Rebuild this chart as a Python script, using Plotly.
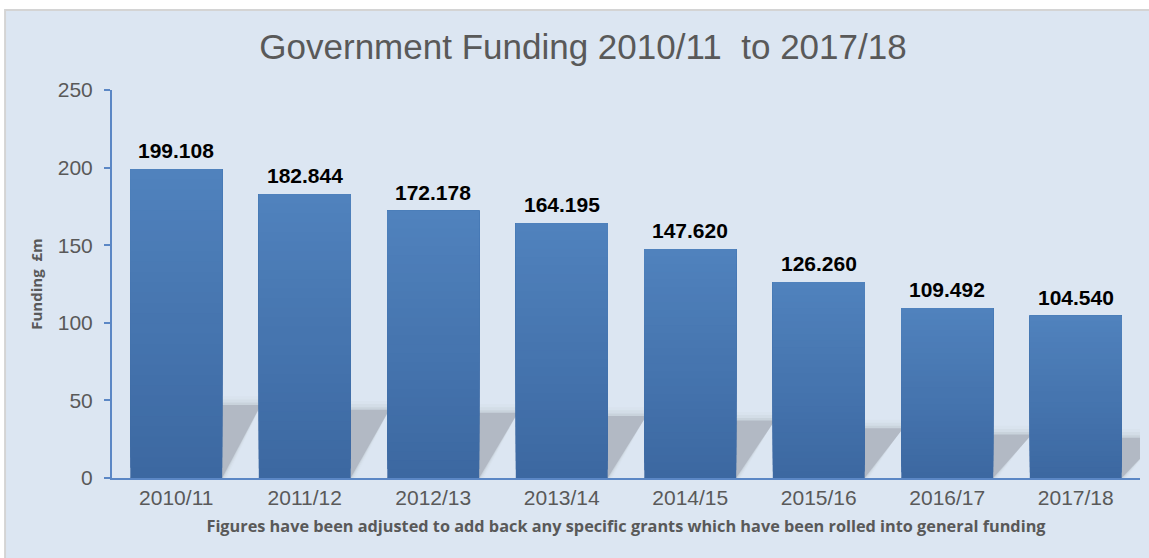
import plotly.graph_objects as go

categories = ["2010/11", "2011/12", "2012/13", "2013/14", "2014/15", "2015/16", "2016/17", "2017/18"]
funding = [199.108, 182.844, 172.178, 164.195, 147.620, 126.260, 109.492, 104.540]
labels = ["199.108", "182.844", "172.178", "164.195", "147.620", "126.260", "109.492", "104.540"]
# decorative drop-shadow heights (£m axis units)
shadow = [47, 44, 42, 40, 37, 32, 28, 26]

title_text = "Government Funding 2010/11  to 2017/18"
y_title = "Funding  £m"
x_title = "Figures have been adjusted to add back any specific grants which have been rolled into general funding"

BAR_W = 0.715
SKEW = 0.30
N_GRAD = 30
TOP_RGB = (0x50, 0x82, 0xbd)
BOT_RGB = (0x3c, 0x68, 0xa1)
xs = list(range(len(categories)))

fig = go.Figure()
# main bars (data)
fig.add_trace(go.Bar(
    x=xs, y=funding, width=BAR_W, name="Funding",
    marker=dict(color="#3c68a1", line=dict(width=0)),
    hovertemplate="%{x}: %{y:.3f}<extra></extra>",
))
# vertical gradient overlay drawn as thin slices of each bar
for k in range(1, N_GRAD):
    f0 = k / N_GRAD
    t = (k + 0.5) / N_GRAD
    c = tuple(round(BOT_RGB[j] + (TOP_RGB[j] - BOT_RGB[j]) * t) for j in range(3))
    fig.add_trace(go.Bar(
        x=xs, y=[v * (1 - f0) for v in funding], base=[v * f0 for v in funding],
        width=BAR_W, marker=dict(color=f"rgb{c}", line=dict(width=0)),
        hoverinfo="skip", showlegend=False,
    ))

for i, v, t in zip(xs, funding, labels):
    fig.add_annotation(x=i, y=v, text=t, showarrow=False, yanchor="bottom", yshift=5,
                       font=dict(family="Liberation Sans, Arial", size=21, color="#000000",
                                 weight="bold"))

shapes = [dict(type="rect", xref="paper", yref="paper", layer="below",
               x0=-0.104, x1=1.02, y0=-0.25, y1=1.206,
               fillcolor="#dce6f2", line=dict(color="#d4d4d4", width=2))]
hw = BAR_W / 2
for i, s in zip(xs, shadow):
    for grow, op, col in [(0.14, 0.12, "#c8ced6"), (0.09, 0.2, "#c0c6cf"),
                          (0.04, 0.35, "#b8bfc9"), (0.0, 1.0, "#b2b9c4")]:
        x0 = i - hw
        x1 = i + hw + grow * 0.25
        top = s + grow * 40
        path = (f"M {x0},{0} L {x1},{0} L {x1 + SKEW},{top} "
                f"L {x0 + SKEW},{top} Z")
        shapes.append(dict(type="path", xref="x", yref="y", layer="below",
                           path=path, fillcolor=col, opacity=op, line=dict(width=0)))

fig.update_layout(
    width=1149, height=558,
    margin=dict(l=112, r=9, t=90, b=80),
    paper_bgcolor="#ffffff",
    plot_bgcolor="rgba(0,0,0,0)",
    showlegend=False,
    barmode="overlay",
    shapes=shapes,
    title=dict(text=title_text, x=583 / 1149, xanchor="center", xref="container",
               y=1 - 47 / 558, yanchor="middle",
               font=dict(family="Liberation Sans, Arial", size=35, color="#595959")),
    xaxis=dict(
        range=[-0.5, 7.5], tickmode="array", tickvals=xs, ticktext=categories,
        showgrid=False, zeroline=False, showline=True, linecolor="#5b87c5", linewidth=2,
        ticks="", tickfont=dict(family="Liberation Sans, Arial", size=21, color="#595959"),
        title=dict(text=x_title, standoff=12,
                   font=dict(family="Open Sans, Lato", size=16.3, color="#595959", weight="bold")),
        fixedrange=True,
    ),
    yaxis=dict(
        range=[0, 250], tickmode="linear", tick0=0, dtick=50,
        showgrid=False, zeroline=False, showline=True, linecolor="#5b87c5", linewidth=2,
        ticks="outside", ticklen=6, tickcolor="#5b87c5", tickwidth=1.5,
        ticklabelstandoff=7,
        tickfont=dict(family="Liberation Sans, Arial", size=21, color="#595959"),
        title=dict(text=y_title, standoff=12,
                   font=dict(family="Open Sans, Lato", size=15, color="#595959", weight="bold")),
        fixedrange=True,
    ),
)

fig.write_html("out.html", config={"displayModeBar": False},
               post_script="document.body.style.margin='0px';")
